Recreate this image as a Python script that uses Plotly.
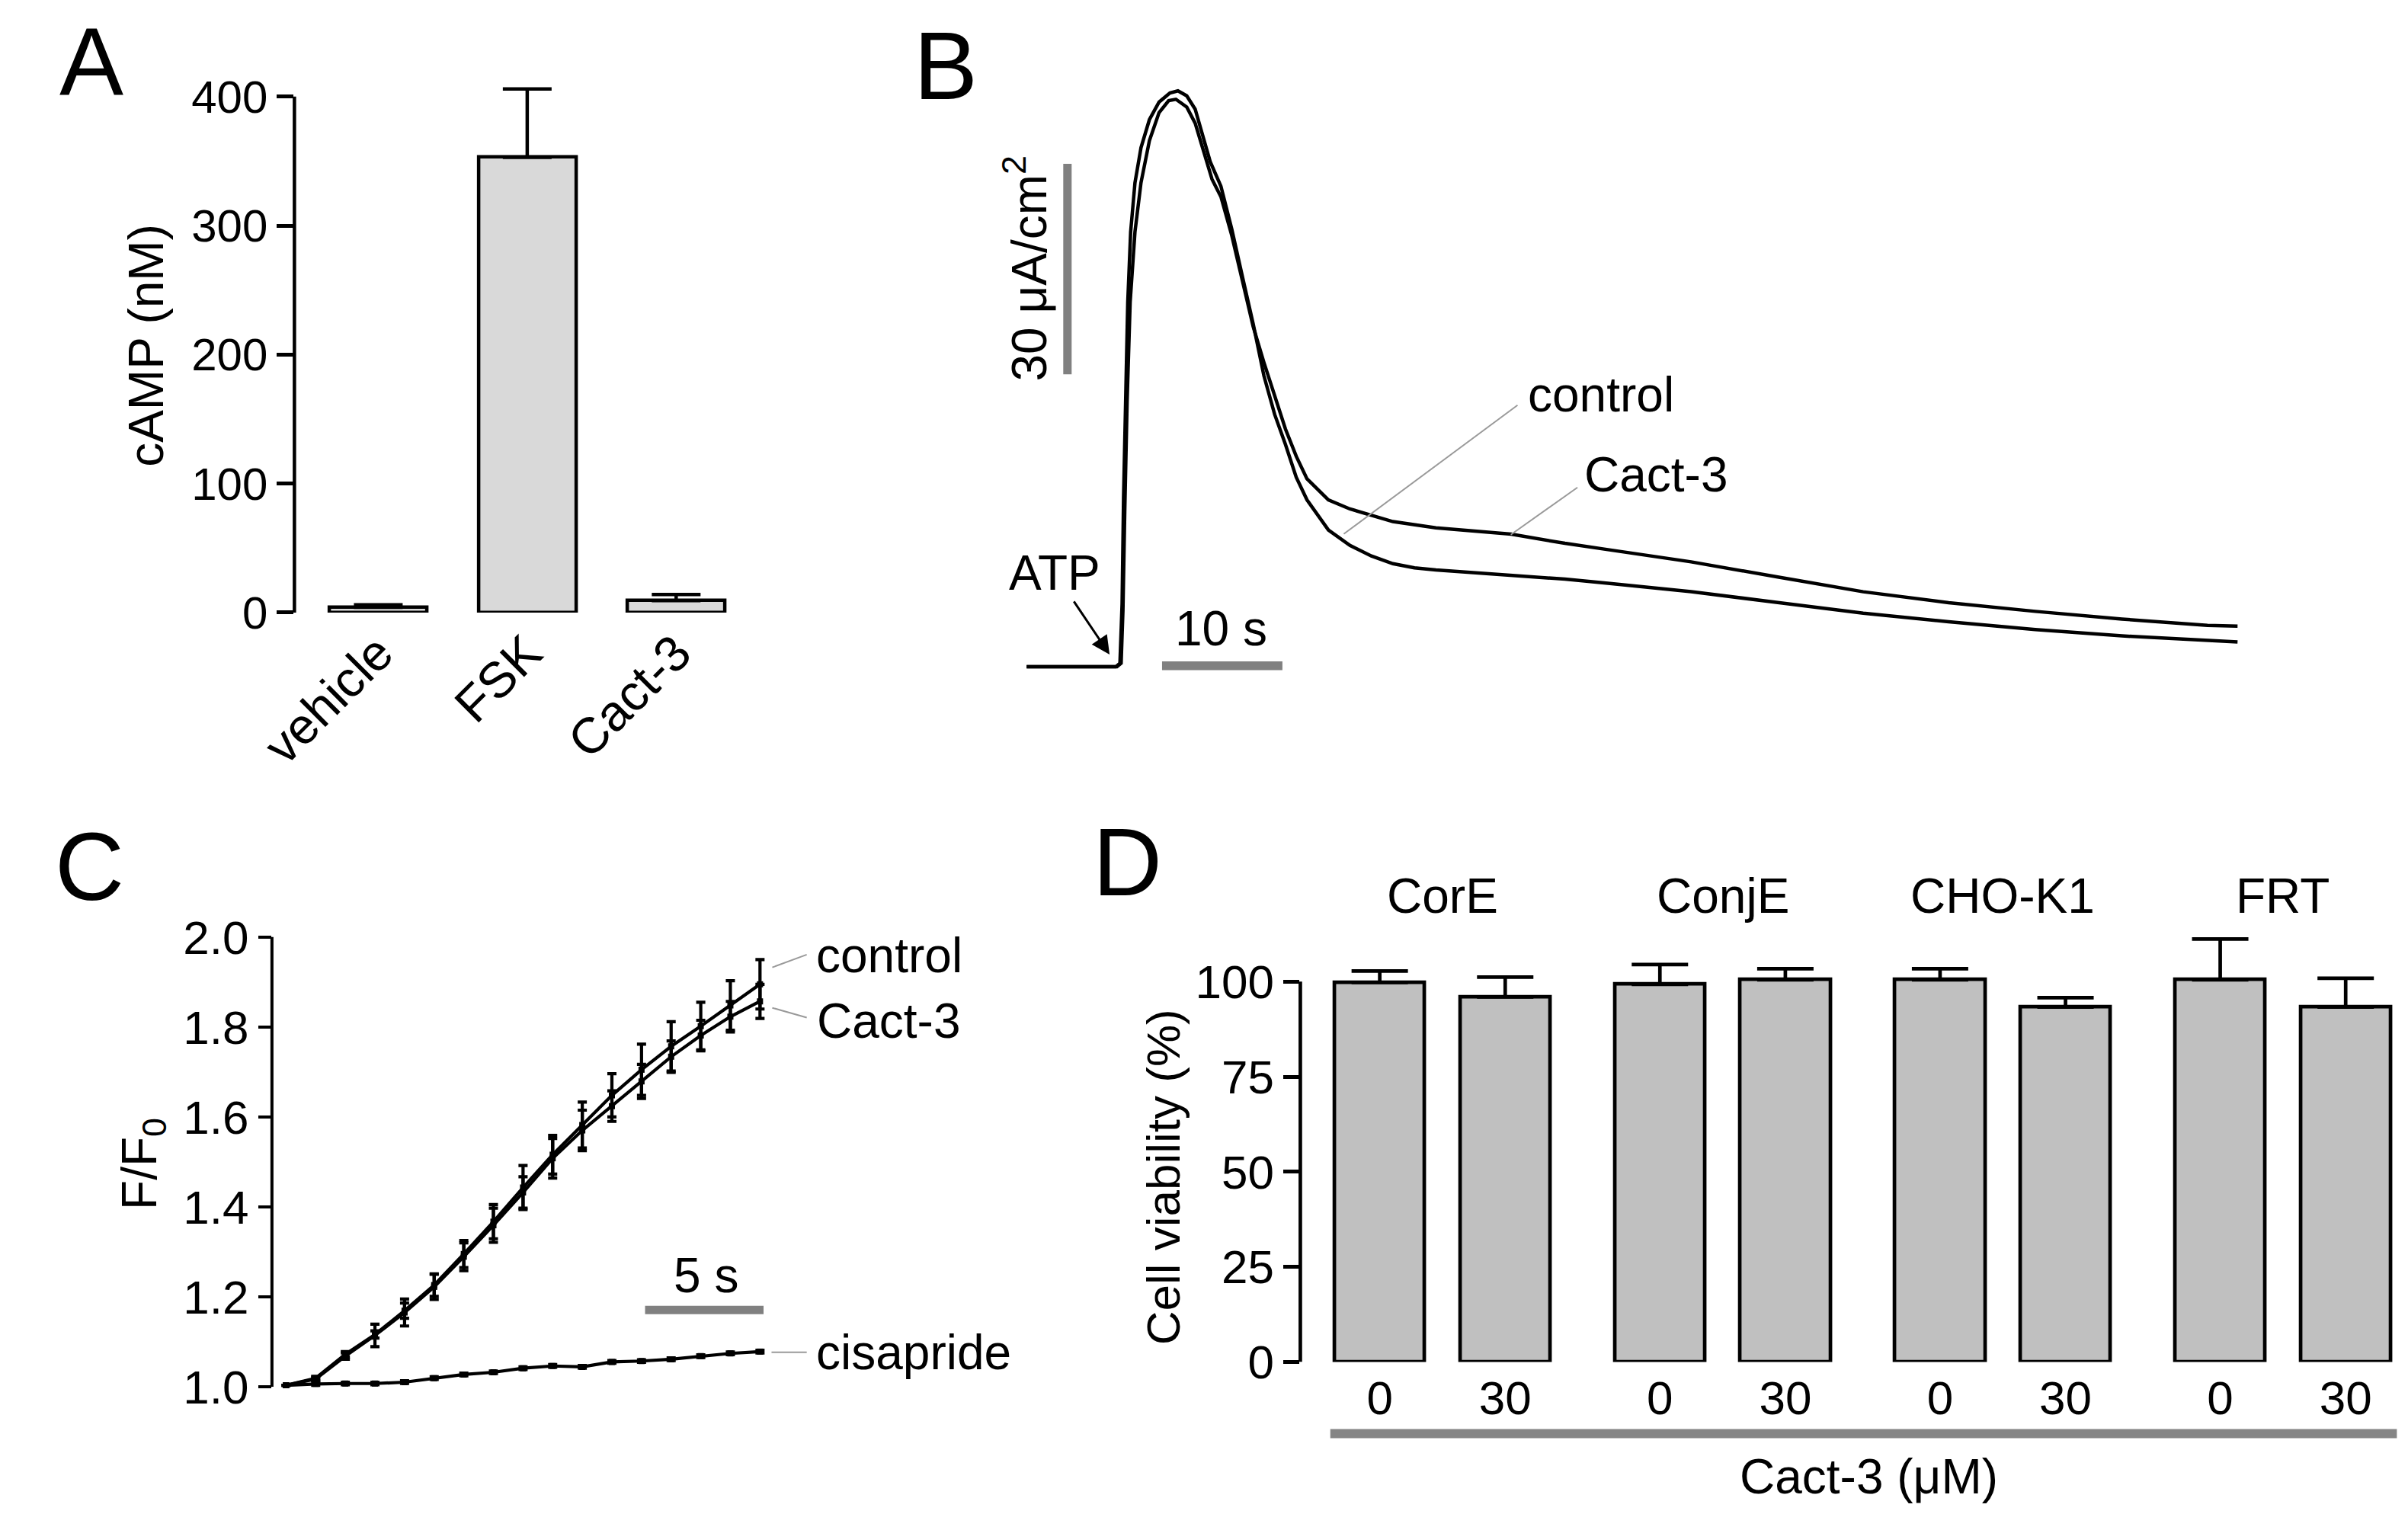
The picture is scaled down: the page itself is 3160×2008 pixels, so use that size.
import plotly.graph_objects as go

W, H = 3160, 2008
FONT = "Liberation Sans, Arial, sans-serif"

# ---------------- Panel A: cAMP ----------------
a_categories = ["vehicle", "FSK", "Cact-3"]
a_values = [4.0, 353.0, 9.3]
a_errors = [2.0, 53.0, 4.7]

# ---------------- Panel B: current traces (time s, µA/cm2) ----------------
b_control_t = [0, 7.4, 7.75, 7.93, 8.05, 8.2, 8.4, 8.64, 9.0, 9.5, 10.2, 11.0, 11.9, 12.57,
               13.3, 14.0, 14.6, 15.25, 16.14, 17.04, 17.93, 18.82, 19.71, 20.6, 21.5, 22.4,
               23.29, 25.07, 26.86, 28.64, 30.43, 32.22, 34.0, 37.58, 41.15, 44.72, 48.3,
               55.2, 62.4, 69.5, 76.6, 83.8, 91.0, 98.1, 100.6]
b_control_v = [0, 0, 0.5, 9, 24, 37, 52, 62, 69, 74, 78, 80.5, 81.8, 82.1,
               81.4, 79.5, 76, 72, 68.5, 62.4, 55.6, 48.9, 41.5, 36, 31.7, 27,
               23.8, 19.5, 17.3, 15.8, 14.7, 14.1, 13.8, 13.4, 12.9, 12.5, 11.9,
               10.7, 9.17, 7.64, 6.41, 5.31, 4.4, 3.78, 3.53]
b_cact_t = [0, 7.5, 7.85, 8.0, 8.15, 8.35, 8.6, 9.0, 9.5, 10.2, 11.0, 11.8, 12.4, 13.3,
            14.0, 14.7, 15.4, 16.14, 17.04, 17.93, 18.82, 19.71, 20.6, 21.5, 22.4, 23.29,
            25.07, 26.86, 30.43, 34.0, 40.25, 44.72, 48.3, 55.2, 62.4, 69.5, 76.6, 83.8,
            91.0, 98.1, 100.6]
b_cact_v = [0, 0, 0.5, 8, 22, 38, 52, 62, 69, 75, 79, 80.7, 80.9, 79.8,
            77.5, 73.5, 69.5, 67, 61.5, 55, 48.5, 43.4, 38.5, 33.9, 30, 26.8,
            23.8, 22.5, 20.7, 19.8, 18.9, 17.6, 16.7, 14.96, 12.8, 10.7, 9.14, 7.9,
            6.8, 5.9, 5.8]

# ---------------- Panel C: F/F0 ----------------
c_time = [0, 1.25, 2.5, 3.75, 5, 6.25, 7.5, 8.75, 10, 11.25, 12.5, 13.75, 15, 16.25, 17.5, 18.75, 20]
c_control = [1.003, 1.019, 1.072, 1.116, 1.169, 1.226, 1.295, 1.367, 1.443, 1.516, 1.582,
             1.648, 1.705, 1.757, 1.802, 1.848, 1.895]
c_control_err = [0, 0.004, 0.006, 0.008, 0.017, 0.025, 0.03, 0.038, 0.049, 0.043, 0.051,
                 0.048, 0.057, 0.055, 0.053, 0.055, 0.055]
c_cact = [1.003, 1.017, 1.068, 1.114, 1.165, 1.222, 1.289, 1.359, 1.432, 1.508, 1.570,
          1.624, 1.679, 1.734, 1.781, 1.823, 1.857]
c_cact_err = [0, 0.004, 0.007, 0.025, 0.03, 0.028, 0.031, 0.038, 0.035, 0.044, 0.045,
              0.034, 0.038, 0.035, 0.034, 0.034, 0.038]
c_cisapride = [1.003, 1.006, 1.007, 1.007, 1.010, 1.019, 1.027, 1.032, 1.041, 1.046, 1.044,
               1.055, 1.057, 1.061, 1.068, 1.074, 1.078]
c_cisapride_err = [0, 0.003, 0.003, 0.003, 0.003, 0.003, 0.003, 0.003, 0.003, 0.003, 0.003,
                   0.003, 0.003, 0.003, 0.003, 0.003, 0.003]

# ---------------- Panel D: cell viability ----------------
d_groups = ["CorE", "ConjE", "CHO-K1", "FRT"]
d_doses = ["0", "30"]
d_values = [99.8, 96.0, 99.3, 100.5, 100.5, 93.3, 100.5, 93.3]
d_errors = [3.0, 5.2, 5.2, 2.9, 2.9, 2.5, 10.7, 7.6]

GROUP_STEP = 2.233
d_x = [g * GROUP_STEP + k for g in range(len(d_groups)) for k in range(len(d_doses))]
d_ticktext = [d for _ in d_groups for d in d_doses]


def px(xo):
    return xo / W


def py(yo):
    return 1 - yo / H


fig = go.Figure()

# Panel A bars
fig.add_trace(go.Bar(
    x=a_categories, y=a_values, width=0.655,
    marker=dict(color="#d9d9d9", line=dict(color="black", width=4.5)),
    error_y=dict(type="data", array=a_errors, arrayminus=[0] * len(a_errors), symmetric=False,
                 color="black", thickness=4.5, width=32),
    xaxis="x", yaxis="y", showlegend=False))

# Panel B traces
fig.add_trace(go.Scatter(x=b_control_t, y=b_control_v, mode="lines",
                         line=dict(color="black", width=4.5), xaxis="x2", yaxis="y2", showlegend=False))
fig.add_trace(go.Scatter(x=b_cact_t, y=b_cact_v, mode="lines",
                         line=dict(color="black", width=4.5), xaxis="x2", yaxis="y2", showlegend=False))

# Panel C traces
for vals, errs in [(c_control, c_control_err), (c_cact, c_cact_err), (c_cisapride, c_cisapride_err)]:
    fig.add_trace(go.Scatter(
        x=c_time, y=vals, mode="lines+markers",
        line=dict(color="black", width=4.2),
        marker=dict(symbol="square", size=8, color="black"),
        error_y=dict(type="data", array=errs, color="black", thickness=4.2, width=6),
        xaxis="x3", yaxis="y3", showlegend=False))

# Panel D bars
fig.add_trace(go.Bar(
    x=d_x, y=d_values, width=0.72,
    marker=dict(color="#c0c0c0", line=dict(color="black", width=4.7)),
    error_y=dict(type="data", array=d_errors, arrayminus=[0] * len(d_errors), symmetric=False,
                 color="black", thickness=4.7, width=37),
    xaxis="x4", yaxis="y4", showlegend=False))

tickfont_a = dict(family=FONT, size=60, color="black")
tickfont_c = dict(family=FONT, size=62, color="black")
hidden = dict(visible=False, showgrid=False, zeroline=False)

fig.update_layout(
    width=W, height=H,
    margin=dict(l=0, r=0, t=0, b=0),
    paper_bgcolor="white", plot_bgcolor="white",
    font=dict(family=FONT, color="black"),
    showlegend=False,
    bargap=0,
    # Panel A
    xaxis=dict(domain=[px(330), px(959)], range=[-0.563, 2.6], anchor="y",
               showline=False, showgrid=False, zeroline=False, ticks="",
               tickangle=-45, tickfont=dict(family=FONT, size=66, color="black")),
    yaxis=dict(domain=[py(810), py(86.5)], range=[0, 420], anchor="x",
               tickvals=[0, 100, 200, 300, 400], ticks="outside", ticklen=22, tickwidth=4.5,
               tickcolor="black", showline=False, showgrid=False, zeroline=False,
               tickfont=tickfont_a),
    # Panel B
    xaxis2=dict(domain=[px(1300), px(2950)], range=[-0.473, 102.2], anchor="y2", **hidden),
    yaxis2=dict(domain=[py(900), py(100)], range=[-1.868, 83.51], anchor="x2", **hidden),
    # Panel C
    xaxis3=dict(domain=[px(300), px(1000)], range=[-0.597, 21.53], anchor="y3", **hidden),
    yaxis3=dict(domain=[py(1860), py(1200)], range=[0.9734, 2.0725], anchor="x3",
                tickvals=[1.0, 1.2, 1.4, 1.6, 1.8, 2.0], tickformat=".1f",
                ticks="outside", ticklen=17, tickwidth=4, tickcolor="black",
                showline=False, showgrid=False, zeroline=False, tickfont=tickfont_c),
    # Panel D
    xaxis4=dict(domain=[px(1673), px(3140)], range=[-0.633, 8.125], anchor="y4",
                tickvals=d_x, ticktext=d_ticktext, ticks="", ticklabelstandoff=6,
                showline=False, showgrid=False, zeroline=False,
                tickfont=tickfont_c),
    yaxis4=dict(domain=[py(1811), py(1237)], range=[0, 113], anchor="x4",
                tickvals=[0, 25, 50, 75, 100], ticks="outside", ticklen=21, tickwidth=4.7,
                tickcolor="black", showline=False, showgrid=False, zeroline=False,
                tickfont=tickfont_c),
)

shapes = []
# Axis lines (only spanning the tick range)
shapes.append(dict(type="line", xref="paper", yref="y", x0=px(330), x1=px(330), y0=0, y1=400,
                   line=dict(color="black", width=4.5)))
shapes.append(dict(type="line", xref="paper", yref="y3", x0=px(300), x1=px(300), y0=1.0, y1=2.0,
                   line=dict(color="black", width=4)))
shapes.append(dict(type="line", xref="paper", yref="y4", x0=px(1673), x1=px(1673), y0=0, y1=100,
                   line=dict(color="black", width=4.7)))
# Scale bars
GRAY = "#808080"
shapes.append(dict(type="line", xref="x2", yref="y2", x0=11.25, x1=21.25, y0=0.16, y1=0.16,
                   line=dict(color=GRAY, width=11.5)))
shapes.append(dict(type="line", xref="x2", yref="y2", x0=3.39, x1=3.39, y0=41.7, y1=71.7,
                   line=dict(color=GRAY, width=11)))
shapes.append(dict(type="line", xref="x3", yref="y3", x0=15.15, x1=20.15, y0=1.1705, y1=1.1705,
                   line=dict(color=GRAY, width=11)))
# Cact-3 underline in D
shapes.append(dict(type="line", xref="paper", yref="paper", x0=px(1713), x1=px(3137),
                   y0=py(1906.7), y1=py(1906.7), line=dict(color="#858585", width=12)))
# Pointer lines
PTR = "#9a9a9a"
for (x0, y0, x1, y1) in [(1963, 533, 1731, 705), (2043, 643, 1954, 706),
                         (968, 1284, 1014, 1267), (968, 1338, 1014, 1351), (967, 1798, 1014, 1798)]:
    shapes.append(dict(type="line", xref="paper", yref="paper", x0=px(x0), x1=px(x1),
                       y0=py(y0), y1=py(y1), line=dict(color=PTR, width=2)))
fig.update_layout(shapes=shapes)

ann = []


def text(t, xo, yo, size=64, xanchor="center", angle=0):
    ann.append(dict(text=t, x=px(xo), y=py(yo), xref="paper", yref="paper", showarrow=False,
                    xanchor=xanchor, yanchor="middle", textangle=angle,
                    font=dict(family=FONT, size=size, color="black")))


# Panel letters
text("A", 59, 74, size=126)
text("B", 1200, 80, size=126)
text("C", 56, 1150, size=126)
text("D", 1442, 1143, size=126)

# Panel A
text("cAMP (nM)", 132, 453, size=64, angle=-90)

# Panel B
text("control", 1975, 519, xanchor="left")
text("Cact-3", 2050, 626, xanchor="left")
text("10 s", 1567, 832)
text("30 μA/cm<sup>2</sup>", 1306, 350, angle=-90)
# ATP label with its arrow (head at the onset of the response)
ann.append(dict(text="ATP", x=6.89, y=1.76, ax=2.33, ay=13.39, xref="x2", yref="y2",
                axref="x2", ayref="y2", showarrow=True, arrowhead=2, arrowsize=1.6,
                arrowwidth=3, arrowcolor="black", standoff=0,
                font=dict(family=FONT, size=64, color="black")))

# Panel C
text("F/F<sub>0</sub>", 127, 1546, angle=-90)
text("control", 1024, 1268, xanchor="left")
text("Cact-3", 1026, 1356, xanchor="left")
text("cisapride", 1024, 1798, xanchor="left")
text("5 s", 880, 1696)

# Panel D
text("Cell viability (%)", 1490, 1564, size=62, angle=-90)
for g, name in enumerate(d_groups):
    ann.append(dict(text=name, x=g * GROUP_STEP + 0.5, y=py(1189), xref="x4", yref="paper",
                    showarrow=False, xanchor="center", yanchor="middle",
                    font=dict(family=FONT, size=64, color="black")))
text("Cact-3 (μM)", 2432, 1964)

fig.update_layout(annotations=ann)

fig.write_html("out.html")
